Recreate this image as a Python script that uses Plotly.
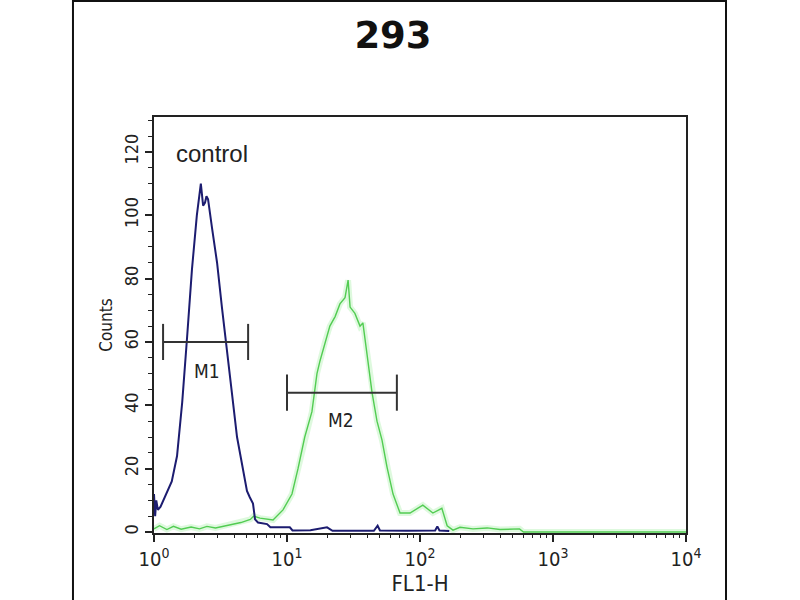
import numpy as np
import plotly.graph_objects as go

# ---- data ----
title_text = "293"
x_label = "FL1-H"
y_label = "Counts"

control_fl = [1.00, 1.02, 1.04, 1.07, 1.12, 1.21, 1.36, 1.49, 1.63, 1.77, 1.93, 2.10, 2.25,
              2.34, 2.42, 2.48, 2.55, 2.73, 2.98, 3.24, 3.54, 3.85, 4.21, 4.59, 5.00, 5.25,
              5.55, 5.75, 6.05, 7.08, 7.5, 10.5, 11.0, 15, 20, 22, 30, 45, 48, 50, 80, 130,
              135, 140, 166]
control_counts = [12, 5, 10, 7, 8, 11, 16, 24, 41, 61, 83, 100, 110,
                  103, 104, 106, 105, 96, 85, 71, 56, 44, 30, 22, 13, 11,
                  9, 4, 3, 2.5, 1.5, 1.5, 0.5, 0.6, 1.5, 0.4, 0.5, 0.4, 2, 0.5, 0.4, 0.5,
                  1.8, 0.5, 0.3]

sample_fl = [1.00, 1.1, 1.25, 1.4, 1.6, 1.9, 2.2, 2.5, 2.9, 3.5, 4.0, 4.5, 5.3, 5.6, 6.27,
             7.85, 9.33, 10.9, 12.1, 13.6, 15.4, 16.8, 17.7, 19.3, 21.0, 23.0, 25.0, 27.3,
             28.8, 29.8, 32.4, 35.4, 37.2, 40.0, 43.6, 47.5, 51.8, 56.5, 62.7, 70.8, 84.1,
             105, 125, 146, 160, 177, 200, 250, 320, 400, 560, 600, 10000]
sample_counts = [1, 2, 0.8, 1.8, 0.9, 1.6, 1.0, 1.8, 1.3, 2, 2.5, 3, 4, 5, 4.4,
                 3.8, 7, 12, 20, 30, 38, 50, 54, 60, 65, 68, 72, 74,
                 79.5, 71, 69, 65, 66, 56, 44, 35, 29, 20.5, 12, 6, 6,
                 8.5, 6, 7.5, 2, 0.6, 1.5, 1, 1.3, 0.8, 1, 0, 0]

gate_names = ["M1", "M2"]
gate_lo = [1.17, 10.0]
gate_hi = [5.1, 67.0]
gate_level = [60, 44]
gate_cap = 5.7
gate_label_pos = [(2.5, 50.8), (25.5, 35.3)]

x_tickvals = [1, 10, 100, 1000, 10000]
x_ticktext = ["10<sup>0</sup>", "10<sup>1</sup>", "10<sup>2</sup>", "10<sup>3</sup>", "10<sup>4</sup>"]
x_minor_tickvals = [m * d for d in (1, 10, 100, 1000) for m in range(2, 10)]

narrow = "Liberation Sans Narrow, DejaVu Sans Condensed, Liberation Sans, Arial, sans-serif"
regular = "Liberation Sans, Arial, sans-serif"
ink = "#222222"

fig = go.Figure()

# sample (green) with soft glow
fig.add_trace(go.Scatter(x=sample_fl, y=sample_counts, mode="lines",
                         line=dict(color="rgba(160,238,160,0.35)", width=6),
                         hoverinfo="skip", showlegend=False))
fig.add_trace(go.Scatter(x=sample_fl, y=sample_counts, mode="lines",
                         line=dict(color="#52cc52", width=1.4), showlegend=False))
# control (blue)
fig.add_trace(go.Scatter(x=control_fl, y=control_counts, mode="lines",
                         line=dict(color="#1c1c70", width=2), showlegend=False))

# gates
for name, lo, hi, lev, (lx, ly) in zip(gate_names, gate_lo, gate_hi, gate_level, gate_label_pos):
    fig.add_trace(go.Scatter(x=[lo, hi], y=[lev, lev], mode="lines",
                             line=dict(color="#333333", width=2), showlegend=False))
    for xv in (lo, hi):
        fig.add_trace(go.Scatter(x=[xv, xv], y=[lev - gate_cap, lev + gate_cap], mode="lines",
                                 line=dict(color="#333333", width=2), showlegend=False))
    fig.add_annotation(x=np.log10(lx), y=ly, text=name, showarrow=False,
                       font=dict(family=narrow, size=19, color=ink))

fig.add_annotation(x=0.436, y=119.5, text="control", showarrow=False,
                   font=dict(family=regular, size=24, color=ink))

# invisible trace to carry the minor-tick axis
fig.add_trace(go.Scatter(x=[1, 10000], y=[0, 0], xaxis="x2", mode="lines",
                         line=dict(width=0), opacity=0, hoverinfo="skip", showlegend=False))

# outer frame
fig.add_shape(type="rect", xref="paper", yref="paper",
              x0=-0.1523, x1=1.0752, y0=-0.25, y1=1.2788,
              line=dict(color="#111111", width=2), fillcolor="rgba(0,0,0,0)", layer="below")

fig.update_layout(
    width=800, height=600,
    paper_bgcolor="white", plot_bgcolor="white",
    margin=dict(l=154, r=114, t=117, b=67),
    title=dict(text="<b>" + title_text + "</b>", x=393 / 800, xref="container", xanchor="center",
               y=1 - 35 / 600, yref="container", yanchor="middle",
               font=dict(family="DejaVu Sans, Liberation Sans, Arial", size=37, color="#111111")),
    showlegend=False,
    xaxis2=dict(type="log", range=[0, 4], overlaying="x", anchor="y", side="bottom",
                showgrid=False, zeroline=False, showline=False, showticklabels=False,
                ticks="outside", ticklen=4, tickwidth=1.2, tickcolor=ink,
                tickmode="array", tickvals=x_minor_tickvals),
)

fig.update_xaxes(selector=dict(anchor="y", overlaying=None))
fig.layout.xaxis.update(type="log", range=[0, 4], showgrid=False, zeroline=False,
                        showline=True, linecolor=ink, linewidth=2, mirror=True,
                        ticks="outside", ticklen=7, tickwidth=1.5, tickcolor=ink,
                        tickmode="array", tickvals=x_tickvals, ticktext=x_ticktext,
                        tickfont=dict(family=narrow, size=20, color=ink),
                        title=dict(text=x_label, font=dict(family=narrow, size=22, color=ink),
                                   standoff=2))

fig.update_yaxes(range=[-0.3, 131], showgrid=False, zeroline=False,
                 showline=True, linecolor=ink, linewidth=2, mirror=True,
                 ticks="outside", ticklen=7, tickwidth=1.5, tickcolor=ink,
                 dtick=20, tick0=0, tickangle=-90,
                 tickfont=dict(family=narrow, size=18, color=ink),
                 minor=dict(ticks="outside", ticklen=4, tickwidth=1.2, tickcolor=ink,
                            dtick=5, showgrid=False),
                 title=dict(text=y_label, font=dict(family=narrow, size=17, color=ink),
                            standoff=4))

fig.write_html("out.html", config={"displayModeBar": False},
               post_script="document.body.style.margin='0px';")
